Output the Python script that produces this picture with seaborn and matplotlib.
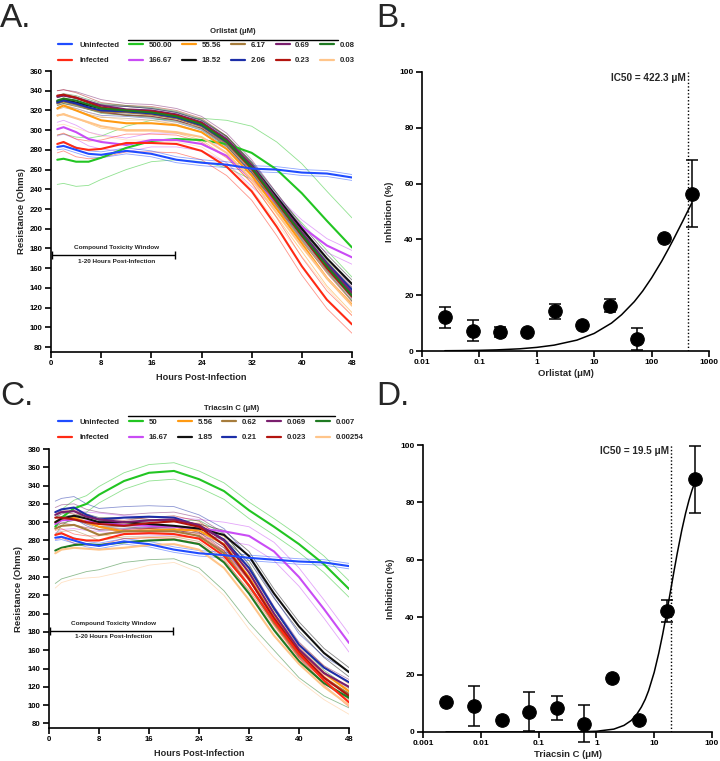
"""
Resistance traces (A, C) and dose-response curves (B, D) for Orlistat / Triacsin C.
"""
import numpy as np
import matplotlib
matplotlib.use("Agg")
import matplotlib.pyplot as plt
from matplotlib.lines import Line2D
from matplotlib.ticker import FixedLocator, FuncFormatter
import seaborn as sns

# --- Panel A / C: resistance over time (mean, SD) ---
hours = [1, 2, 4, 6, 8, 12, 16, 20, 24, 28, 32, 36, 40, 44, 48]

orl_labels = ["500.00", "166.67", "55.56", "18.52", "6.17", "2.06", "0.69", "0.23", "0.08", "0.03"]
tri_labels = ["50", "16.67", "5.56", "1.85", "0.62", "0.21", "0.069", "0.023", "0.007", "0.00254"]
conc_colors = ["#22c522", "#c94cf5", "#ff9a12", "#111111", "#a67c3c",
               "#1c2ea8", "#7a1f6e", "#b3140f", "#1f7a22", "#ffc58a"]

uninf_A = [283, 284, 280, 276, 275, 279, 276, 270, 267, 265, 261, 260, 257, 256, 252]
inf_A = [286, 288, 282, 280, 281, 287, 287, 286, 279, 263, 238, 202, 162, 128, 103]
orl_means = [
    [270, 271, 268, 268, 272, 282, 289, 291, 290, 286, 277, 260, 236, 208, 181],
    [301, 303, 298, 291, 288, 285, 290, 290, 286, 274, 250, 226, 202, 183, 171],
    [322, 325, 320, 315, 310, 307, 307, 305, 298, 281, 254, 220, 185, 150, 123],
    [329, 331, 328, 325, 322, 320, 318, 314, 306, 290, 264, 232, 200, 170, 144],
    [327, 329, 326, 322, 319, 318, 316, 312, 304, 287, 260, 226, 193, 162, 133],
    [328, 330, 327, 323, 320, 319, 317, 313, 305, 288, 262, 229, 196, 165, 138],
    [334, 335, 333, 329, 325, 321, 320, 316, 308, 291, 264, 230, 196, 164, 135],
    [335, 336, 333, 328, 323, 320, 319, 315, 307, 289, 261, 227, 193, 160, 131],
    [330, 332, 330, 326, 322, 320, 318, 314, 306, 289, 262, 228, 194, 162, 132],
    [315, 316, 312, 308, 304, 300, 300, 298, 293, 277, 250, 216, 182, 150, 122],
]
uninf_A_sd = 3
inf_A_sd = 9
orl_sds = [
    [25, 25, 25, 24, 22, 22, 21, 21, 22, 24, 27, 28, 30, 30, 30],
    7, 8, 4, 6, 5, 6, 5, 5, 10,
]

uninf_C = [283, 284, 280, 276, 274, 279, 276, 270, 266, 264, 261, 259, 257, 256, 252]
inf_C = [286, 288, 282, 280, 280, 287, 288, 287, 282, 263, 231, 192, 156, 127, 103]
tri_means = [
    [295, 305, 315, 320, 330, 345, 354, 356, 347, 334, 313, 295, 276, 254, 227],
    [298, 302, 303, 301, 300, 297, 296, 295, 293, 290, 285, 268, 240, 205, 168],
    [300, 304, 305, 300, 295, 290, 291, 292, 291, 276, 240, 196, 160, 135, 115],
    [300, 304, 307, 304, 300, 300, 298, 296, 293, 286, 263, 222, 186, 157, 136],
    [293, 296, 297, 292, 286, 290, 290, 290, 285, 266, 230, 190, 155, 130, 112],
    [311, 314, 316, 308, 303, 305, 306, 305, 296, 281, 250, 206, 166, 141, 125],
    [308, 311, 312, 306, 303, 300, 302, 303, 297, 280, 245, 200, 161, 135, 120],
    [305, 305, 303, 300, 298, 296, 299, 301, 295, 275, 238, 195, 158, 130, 110],
    [269, 272, 275, 276, 275, 278, 280, 281, 276, 256, 222, 182, 148, 124, 108],
    [266, 270, 272, 271, 270, 272, 275, 276, 270, 250, 215, 176, 145, 120, 100],
]
uninf_C_sd = 3
inf_C_sd = 5
tri_sds = [
    9, 10, 8, 5, 6, 12, 8, 6,
    [36, 34, 33, 30, 27, 22, 21, 21, 26, 31, 32, 22, 18, 14, 11],
    [38, 36, 34, 32, 30, 26, 22, 20, 25, 30, 32, 24, 18, 14, 10],
]

# --- Panel B / D: dose response ---
orl_conc = [0.0254, 0.0762, 0.229, 0.686, 2.06, 6.17, 18.52, 55.56, 166.67, 500]
orl_inhib = [12.1, 7.3, 6.8, 6.8, 14.2, 9.4, 16.3, 4.4, 40.4, 56.4]
orl_err = [3.8, 3.7, 1.8, 0, 2.8, 0, 2.5, 4.0, 0, 12.1]
orl_fit_x = [0.025, 0.05, 0.1, 0.2, 0.5, 1, 2, 5, 10, 20, 30, 50, 70, 100, 150,
             200, 250, 300, 350, 400, 450, 500]
orl_fit_y = [0.1, 0.15, 0.24, 0.4, 0.78, 1.3, 2.1, 3.9, 6.3, 10.0, 13.0, 17.7, 21.5, 26.2, 32.2,
             36.9, 40.7, 43.9, 46.6, 49.0, 51.1, 53.0]
orl_ic50 = 422.3

tri_conc = [0.00254, 0.00762, 0.0229, 0.0686, 0.206, 0.617, 1.85, 5.56, 16.67, 50]
tri_inhib = [10.5, 9.0, 4.2, 7.0, 8.3, 2.9, 18.7, 4.1, 42.1, 88.1]
tri_err = [0, 7.0, 0, 6.8, 4.2, 6.4, 0, 0, 3.8, 11.7]
tri_fit_x = [0.0025, 0.01, 0.1, 0.5, 1, 2, 3, 4, 5, 6, 7, 8, 10, 12, 14, 16,
             19.5, 22, 25, 30, 35, 40, 45, 50]
tri_fit_y = [0, 0, 0, 0.07, 0.26, 1.0, 2.3, 4.0, 6.2, 8.7, 11.4, 14.4, 20.8, 27.5, 34.0, 40.2,
             50.0, 56.0, 62.2, 70.3, 76.3, 80.8, 84.2, 86.8]
tri_ic50 = 19.5

BLUE = "#1f4cff"
RED = "#ff2a14"

sns.set_theme(style="ticks")
plt.rcParams["font.family"] = ["Liberation Sans", "DejaVu Sans"]
plt.rcParams["font.weight"] = "bold"
plt.rcParams["axes.labelweight"] = "bold"

fig = plt.figure(figsize=(7.2, 7.61), dpi=100)
W, H = 720, 761


def px_axes(left, top, right, bottom):
    return fig.add_axes([left / W, 1 - bottom / H, (right - left) / W, (bottom - top) / H])


def style_axis(ax, tick_size):
    sns.despine(ax=ax)
    for s in ["left", "bottom"]:
        ax.spines[s].set_linewidth(1.2)
        ax.spines[s].set_color("black")
    ax.tick_params(direction="out", length=4, width=1.2, labelsize=tick_size, pad=2, colors="black")
    for lab in ax.get_xticklabels() + ax.get_yticklabels():
        lab.set_fontweight("bold")


def resistance_panel(ax, means, sds, uninf, uninf_sd, inf, inf_sd, ymax, tox_y):
    t = np.array(hours)
    series = list(zip(means, sds, conc_colors)) + [(inf, inf_sd, RED), (uninf, uninf_sd, BLUE)]
    # thin SD lines first
    for m, sd, c in series:
        m = np.array(m, dtype=float)
        sd = np.asarray(sd, dtype=float)
        for sign in (1, -1):
            sns.lineplot(x=t, y=m + sign * sd, color=c, lw=0.6, alpha=0.5, ax=ax)
    for m, sd, c in series:
        sns.lineplot(x=t, y=m, color=c, lw=1.5, ax=ax)
    ax.set_xlim(0, 48)
    ax.set_ylim(75, ymax)
    ax.xaxis.set_major_locator(FixedLocator(range(0, 49, 8)))
    ax.yaxis.set_major_locator(FixedLocator(range(80, ymax + 1, 20)))
    ax.set_xlabel("Hours Post-Infection", fontsize=6.6, fontweight="bold", labelpad=4)
    ax.set_ylabel("Resistance (Ohms)", fontsize=6.8, fontweight="bold", labelpad=3)
    # compound toxicity window
    ax.errorbar(10, tox_y, xerr=9.8, color="black", lw=1, capsize=3, capthick=1)
    ax.text(10.4, tox_y + 5, "Compound Toxicity Window", ha="center", va="bottom", fontsize=4.6)
    ax.text(10.4, tox_y - 4, "1-20 Hours Post-Infection", ha="center", va="top", fontsize=4.6)
    style_axis(ax, 5.6)


def dose_panel(ax, conc, inhib, err, fx, fy, ic50, xmin, xmax, xlabel, ic_text):
    sns.lineplot(x=fx, y=fy, color="black", lw=1.1, ax=ax)
    ax.errorbar(conc, inhib, yerr=err, fmt="none", ecolor="black", elinewidth=1.1,
                capsize=4.3, capthick=1.1, clip_on=False)
    sns.scatterplot(x=conc, y=inhib, color="black", s=95, edgecolor="black", ax=ax,
                    clip_on=False, zorder=5)
    ax.axvline(ic50, ymin=0, ymax=1, color="black", ls=(0, (1, 1.5)), lw=1)
    ax.text(ic50 * 0.93, 98, ic_text, ha="right", va="center", fontsize=7.2)
    ax.set_xscale("log")
    ax.set_xlim(xmin, xmax)
    ax.set_ylim(0, 100)
    decades = [10.0 ** k for k in range(int(np.log10(xmin)), int(np.log10(xmax)) + 1)]
    ax.xaxis.set_major_locator(FixedLocator(decades))
    ax.xaxis.set_minor_locator(FixedLocator([]))
    ax.xaxis.set_major_formatter(FuncFormatter(lambda v, p: f"{v:g}"))
    ax.yaxis.set_major_locator(FixedLocator(range(0, 101, 20)))
    ax.set_xlabel(xlabel, fontsize=6.8, fontweight="bold", labelpad=2)
    ax.set_ylabel("Inhibition (%)", fontsize=6.8, fontweight="bold", labelpad=4)
    style_axis(ax, 6)


def legend_block(top_row_y, title, labels, title_y, rule_y, rule_x0, rule_x1):
    base = [Line2D([], [], color=BLUE, lw=1.6), Line2D([], [], color=RED, lw=1.6)]
    fig.legend(base, ["Uninfected", "Infected"], loc="upper left",
               bbox_to_anchor=(58 / W, 1 - (top_row_y - 4) / H), frameon=False,
               fontsize=5.6, handlelength=1.8, handletextpad=0.9, labelspacing=1.0,
               borderpad=0, borderaxespad=0)
    handles = [Line2D([], [], color=c, lw=1.6) for c in conc_colors]
    fig.legend(handles, labels, loc="upper left", ncol=5,
               bbox_to_anchor=(129 / W, 1 - (top_row_y - 4) / H), frameon=False,
               fontsize=5.6, handlelength=1.8, handletextpad=0.7, labelspacing=1.0,
               columnspacing=1.3, borderpad=0, borderaxespad=0)
    fig.text((rule_x0 + rule_x1) / 2 / W, 1 - title_y / H, title, ha="center", va="center",
             fontsize=5.6)
    fig.add_artist(Line2D([rule_x0 / W, rule_x1 / W], [1 - rule_y / H, 1 - rule_y / H],
                          color="black", lw=1))


axA = px_axes(51, 71, 352, 352)
resistance_panel(axA, orl_means, orl_sds, uninf_A, uninf_A_sd, inf_A, inf_A_sd, 360, 173.5)
legend_block(45.7, "Orlistat (\u03bcM)", orl_labels, 31.5, 39.7, 128, 338)

axC = px_axes(49, 449, 349, 728)
resistance_panel(axC, tri_means, tri_sds, uninf_C, uninf_C_sd, inf_C, inf_C_sd, 380, 181.3)
legend_block(422.7, "Triacsin C (\u03bcM)", tri_labels, 408.3, 416.3, 128, 335)

axB = px_axes(422, 72, 709, 351)
dose_panel(axB, orl_conc, orl_inhib, orl_err, orl_fit_x, orl_fit_y, orl_ic50,
           0.01, 1000, "Orlistat (\u03bcM)", "IC50 = 422.3 \u03bcM")

axD = px_axes(423, 445, 712, 732)
dose_panel(axD, tri_conc, tri_inhib, tri_err, tri_fit_x, tri_fit_y, tri_ic50,
           0.001, 100, "Triacsin C (\u03bcM)", "IC50 = 19.5 \u03bcM")

for letter, x, y in [("A.", 0, 3), ("B.", 376, 3), ("C.", 0, 381), ("D.", 376, 381)]:
    fig.text(x / W, 1 - y / H, letter, ha="left", va="top", fontsize=24, fontweight="normal")

fig.savefig("out.png", dpi=100)
